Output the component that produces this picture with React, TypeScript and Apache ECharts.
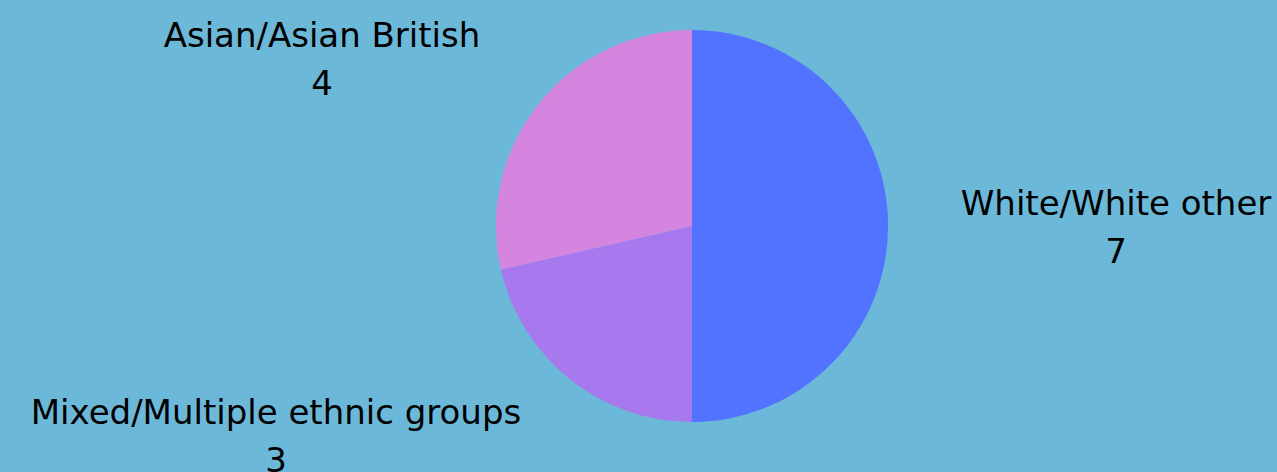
import React, { useEffect, useRef } from "react";
import * as echarts from "echarts";

const categories = ["White/White other", "Mixed/Multiple ethnic groups", "Asian/Asian British"];
const values = [7, 3, 4];
const colors = ["#5273ff", "#a878ef", "#d585e0"];

const labelSpots = [
  { x: 1116, y: 227 },
  { x: 276, y: 436 },
  { x: 322, y: 59 },
];

export default function App() {
  const ref = useRef<HTMLDivElement>(null);
  useEffect(() => {
    document.body.style.margin = "0";
    const chart = echarts.init(ref.current!, null, { renderer: "svg" });
    chart.setOption({
      animation: false,
      backgroundColor: "#6cb8d9",
      series: [
        {
          type: "pie",
          center: [692, 226],
          radius: 196,
          startAngle: 90,
          clockwise: true,
          data: categories.map((name, i) => ({
            name,
            value: values[i],
            itemStyle: { color: colors[i] },
          })),
          label: {
            show: true,
            formatter: "{b}\n{c}",
            fontFamily: "DejaVu Sans",
            fontSize: 34,
            lineHeight: 48,
            color: "#000",
            align: "center",
          },
          labelLine: { show: false },
          labelLayout: (params: any) => {
            const s = labelSpots[params.dataIndex];
            return { x: s.x, y: s.y, align: "center", verticalAlign: "middle" };
          },
          emphasis: { disabled: true },
        },
      ],
    });
    return () => chart.dispose();
  }, []);
  return <div ref={ref} style={{ width: 1277, height: 472 }} />;
}
